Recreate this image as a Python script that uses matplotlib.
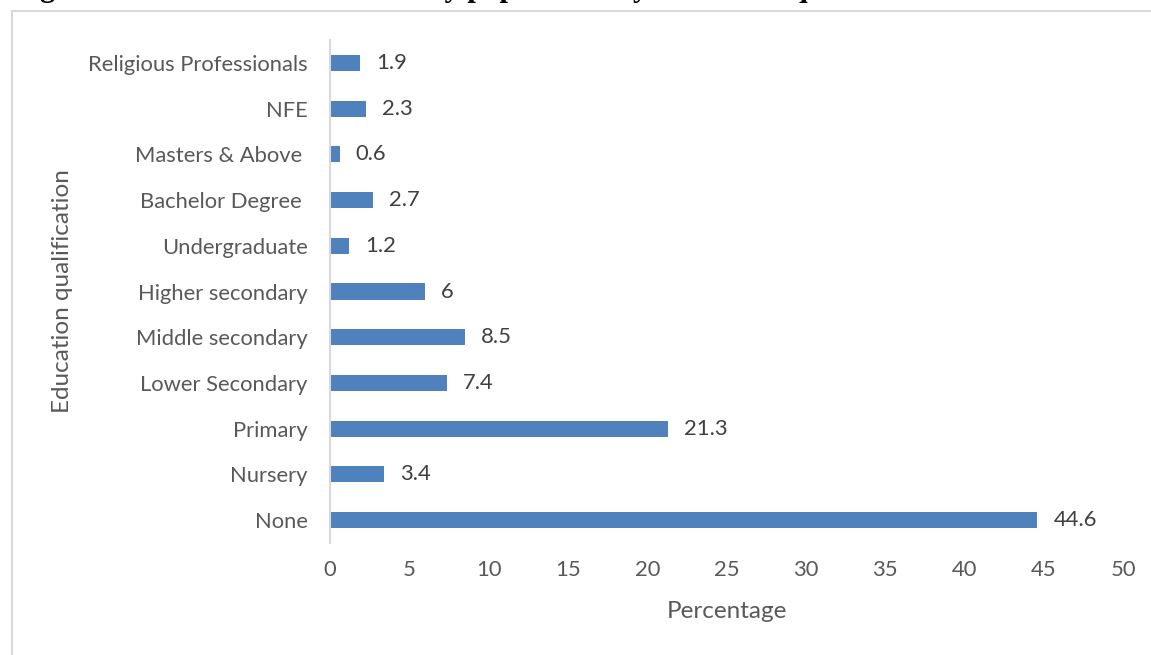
import matplotlib.pyplot as plt
from matplotlib.lines import Line2D

# data, bottom -> top as in the chart
categories = ["None", "Nursery", "Primary", "Lower Secondary", "Middle secondary",
              "Higher secondary", "Undergraduate", "Bachelor Degree ", "Masters & Above ",
              "NFE", "Religious Professionals"]
percentages = [44.6, 3.4, 21.3, 7.4, 8.5, 6, 1.2, 2.7, 0.6, 2.3, 1.9]
x_ticks = [0, 5, 10, 15, 20, 25, 30, 35, 40, 45, 50]

title = "Figure 5: Distribution of the study population by education qualification"

plt.rcParams['font.family'] = ['Lato', 'DejaVu Sans']

fig = plt.figure(figsize=(11.51, 6.55), dpi=100)
W, H = 1151, 655
ax = fig.add_axes([330 / W, 1 - 543 / H, 793 / W, 503 / H])

ypos = list(range(len(categories)))
ax.barh(ypos, percentages, height=0.35, color='#4F81BD')

for y, v in zip(ypos, percentages):
    ax.annotate(f"{v:g}", xy=(v, y), xytext=(11.5, 0), textcoords='offset points',
                ha='left', va='center', fontsize=15.8, color='#404040')

ax.set_xlim(0, 50)
ax.set_ylim(-0.5, len(categories) - 0.5)
ax.set_xticks(x_ticks)
ax.set_yticks(ypos)
ax.set_yticklabels(categories)
ax.tick_params(axis='both', length=0, labelsize=15.8, labelcolor='#595959')
ax.tick_params(axis='x', pad=12)
ax.tick_params(axis='y', pad=16)

for s in ['top', 'right', 'bottom']:
    ax.spines[s].set_visible(False)
ax.spines['left'].set_color('#d9d9d9')
ax.spines['left'].set_linewidth(1.5)

ax.set_xlabel("Percentage", fontsize=17.5, color='#595959', va='center')
ax.xaxis.set_label_coords(0.5, -(612 - 543) / 503)
ax.set_ylabel("Education qualification", fontsize=17.5, color='#595959', va='center')
ax.yaxis.set_label_coords(-(330 - 62) / 793, 0.5)

# outer chart frame (only left and top edges fall inside the image)
fig.add_artist(Line2D([12 / W, 12 / W], [0, 1 - 11 / H], transform=fig.transFigure,
                      color='#d9d9d9', linewidth=1.5))
fig.add_artist(Line2D([12 / W, 1], [1 - 11 / H, 1 - 11 / H], transform=fig.transFigure,
                      color='#d9d9d9', linewidth=1.5))

# document caption above, mostly cut off by the crop
fig.text(13 / W, 1 + 4 / H, title, ha='left', va='baseline', fontsize=22,
         fontweight='bold', family='Liberation Serif', color='black')

fig.savefig("out.png", dpi=100)
